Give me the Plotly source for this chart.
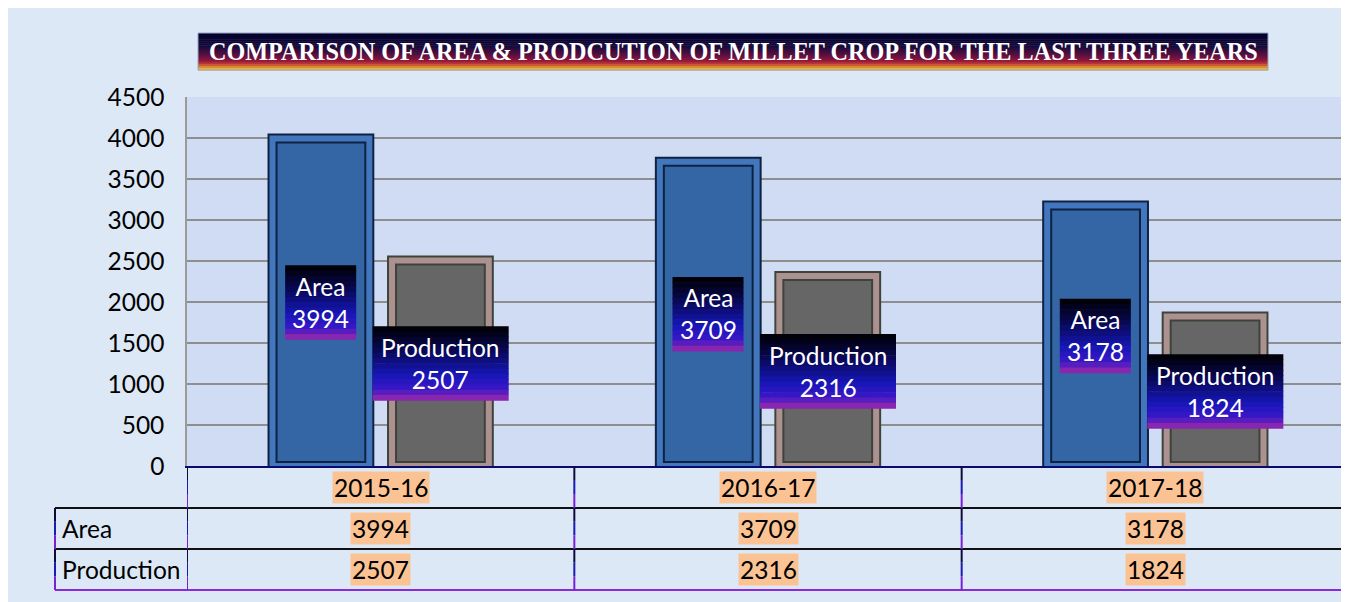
import plotly.graph_objects as go

# ---------------- data ----------------
years = ["2015-16", "2016-17", "2017-18"]
area = [3994, 3709, 3178]
production = [2507, 2316, 1824]
series_names = ["Area", "Production"]
title_text = "COMPARISON OF AREA & PRODCUTION OF MILLET CROP FOR THE LAST THREE YEARS"

# ---------------- layout geometry (pixels) ----------------
OFF = 8  # page body margin in the browser
FIG_W, FIG_H = 1349 - OFF, 602 - OFF
# reference-screen positions of the plot area
REF_L, REF_T, REF_B = 187, 97, 466
L = REF_L - OFF
T = REF_T - OFF
R = 0
PW = FIG_W - L - R
PH = REF_B - REF_T
B = FIG_H - T - PH


def px_x(p):
    return (p - REF_L) / PW


def px_y(p):
    return (REF_B - p) / PH


def hex2rgb(h):
    h = h.lstrip("#")
    return tuple(int(h[i:i + 2], 16) for i in (0, 2, 4))


def grad(stops, t):
    for (t0, c0), (t1, c1) in zip(stops[:-1], stops[1:]):
        if t0 <= t <= t1:
            f = 0 if t1 == t0 else (t - t0) / (t1 - t0)
            a, b = hex2rgb(c0), hex2rgb(c1)
            return "rgb(%d,%d,%d)" % tuple(round(a[i] + (b[i] - a[i]) * f) for i in range(3))
    return stops[-1][1]


FONT = "Lato"
FS = 24.5
shapes = []
annotations = []

# chart background + border
shapes.append(dict(type="rect", xref="paper", yref="paper", x0=px_x(7), x1=px_x(1400),
                   y0=px_y(7), y1=px_y(700), fillcolor="#dce8f6",
                   line=dict(color="#8c8c8c", width=2), layer="below"))
# plot area background
shapes.append(dict(type="rect", xref="paper", yref="paper", x0=0, x1=1, y0=0, y1=1,
                   fillcolor="#d0dbf4", line=dict(width=0), layer="below"))

fig = go.Figure()

# bars (back trace: fill + dark outline, front trace: bevel frame)
bar_styles = {
    "Area": dict(fill="#3465a5", dark="#0f2242", frame="#4277bd"),
    "Production": dict(fill="#666666", dark="#3c443a", frame="#ad9191"),
}
for name, vals in zip(series_names, [area, production]):
    st = bar_styles[name]
    fig.add_trace(go.Bar(x=years, y=vals, name=name, offsetgroup=name,
                         marker=dict(color=st["fill"], line=dict(color=st["dark"], width=10)),
                         showlegend=False, hovertemplate=name + ": %{y}<extra></extra>"))
    fig.add_trace(go.Bar(x=years, y=vals, name=name, offsetgroup=name,
                         marker=dict(color="rgba(0,0,0,0)", line=dict(color=st["frame"], width=6)),
                         showlegend=False, hoverinfo="skip"))

# data labels (centred in the bars) with gradient boxes
LABEL_FRAC = 0.5
label_stops = [(0, "#000000"), (0.3, "#07074e"), (0.65, "#1616b4"),
               (0.85, "#3a18c8"), (1.0, "#a02aa8")]
box_w = {"Area": 71, "Production": 136}
shift = {"Area": -60, "Production": 60}
BOX_H = 74
N = 14
for name, vals in zip(series_names, [area, production]):
    for cat, v in zip(years, vals):
        ya = v * LABEL_FRAC
        for i in range(N):
            top = BOX_H / 2 - i * BOX_H / N
            bot = BOX_H / 2 - (i + 1) * BOX_H / N - 0.6
            shapes.append(dict(type="rect", xref="x", yref="y",
                               xsizemode="pixel", xanchor=cat,
                               x0=shift[name] - box_w[name] / 2, x1=shift[name] + box_w[name] / 2,
                               ysizemode="pixel", yanchor=ya, y0=bot, y1=top,
                               fillcolor=grad(label_stops, (i + 0.5) / N),
                               line=dict(width=0), layer="above"))
        annotations.append(dict(x=cat, y=ya, xref="x", yref="y", xshift=shift[name],
                                text=f"{name}<br>{v}", showarrow=False,
                                font=dict(family=FONT, size=FS, color="white"),
                                xanchor="center", yanchor="middle", align="center"))

# title with gradient box
title_stops = [(0, "#00002a"), (0.35, "#140a3a"), (0.6, "#5a1040"),
               (0.78, "#a0183c"), (0.9, "#d87a30"), (1.0, "#f0c848")]
TX0, TX1, TY0, TY1 = 198, 1268, 33, 70
NT = 18
for i in range(NT):
    y_top = TY0 + i * (TY1 - TY0) / NT
    y_bot = TY0 + (i + 1) * (TY1 - TY0) / NT + 0.5
    shapes.append(dict(type="rect", xref="paper", yref="paper",
                       x0=px_x(TX0), x1=px_x(TX1), y0=px_y(y_bot), y1=px_y(y_top),
                       fillcolor=grad(title_stops, (i + 0.5) / NT), line=dict(width=0)))
shapes.append(dict(type="rect", xref="paper", yref="paper",
                   x0=px_x(TX0), x1=px_x(TX1), y0=px_y(TY1), y1=px_y(TY0),
                   fillcolor="rgba(0,0,0,0)", line=dict(color="#9aa6c0", width=1)))
annotations.append(dict(x=px_x((TX0 + TX1) / 2), y=px_y((TY0 + TY1) / 2), xref="paper", yref="paper",
                        text="<b>" + title_text + "</b>", showarrow=False,
                        font=dict(family="Liberation Serif", size=24.2, color="white"),
                        xanchor="center", yanchor="middle"))

# data table under the chart
ROW_Y = [466, 508, 549, 590]
HL = "#fbc394"
for cat in years:
    annotations.append(dict(x=cat, y=px_y((ROW_Y[0] + ROW_Y[1]) / 2), xref="x", yref="paper",
                            text=cat, showarrow=False, bgcolor=HL, borderpad=1,
                            xanchor="center", yanchor="middle",
                            font=dict(family=FONT, size=FS, color="black")))
for r, (name, vals) in enumerate(zip(series_names, [area, production])):
    yc = px_y((ROW_Y[r + 1] + ROW_Y[r + 2]) / 2)
    annotations.append(dict(x=px_x(60), y=yc, xref="paper", yref="paper", text=name,
                            showarrow=False, xanchor="left", yanchor="middle",
                            font=dict(family=FONT, size=FS, color="black")))
    for cat, v in zip(years, vals):
        annotations.append(dict(x=cat, y=yc, xref="x", yref="paper", text=str(v),
                                showarrow=False, bgcolor=HL, borderpad=1,
                                xanchor="center", yanchor="middle",
                                font=dict(family=FONT, size=FS, color="black")))

# table horizontal lines
for yy, col in [(ROW_Y[1], "#111111"), (ROW_Y[2], "#111111"), (ROW_Y[3], "#8a2ad8")]:
    shapes.append(dict(type="line", xref="paper", yref="paper", x0=px_x(55), x1=1.0,
                       y0=px_y(yy), y1=px_y(yy), line=dict(color=col, width=2)))

# table vertical lines (navy -> blue -> purple per row)
seg_cols = ["#0c0c3c", "#1a1ab4", "#7a20d4"]


def vline(xref, xv, y_top, y_bot):
    hseg = (y_bot - y_top) / 3
    for k, c in enumerate(seg_cols):
        shapes.append(dict(type="line", xref=xref, yref="paper", x0=xv, x1=xv,
                           y0=px_y(y_top + k * hseg), y1=px_y(y_top + (k + 1) * hseg),
                           line=dict(color=c, width=2)))


for r in range(3):
    for b in range(len(years)):
        vline("x", b - 0.5, ROW_Y[r], ROW_Y[r + 1])
for r in range(1, 3):
    vline("paper", px_x(55), ROW_Y[r], ROW_Y[r + 1])

fig.update_layout(
    width=FIG_W, height=FIG_H,
    margin=dict(l=L, r=R, t=T, b=B, pad=0),
    paper_bgcolor="white", plot_bgcolor="rgba(0,0,0,0)",
    barmode="group", bargap=0.383, bargroupgap=0.19,
    showlegend=False,
    shapes=shapes, annotations=annotations,
    font=dict(family=FONT, size=FS, color="black"),
    xaxis=dict(type="category", showticklabels=False, showgrid=False,
               showline=True, linecolor="#0a0a6e", linewidth=2, ticks="",
               range=[-0.5, 2.5], fixedrange=True),
    yaxis=dict(range=[0, 4500], dtick=500, tick0=0, showgrid=True, gridcolor="#8e8e8e",
               gridwidth=1.5, showline=True, linecolor="#9a9a9a", linewidth=1.5,
               ticks="", ticklabelstandoff=16, zeroline=False,
               tickfont=dict(family=FONT, size=FS, color="black"), fixedrange=True),
)

fig.write_html("out.html")
